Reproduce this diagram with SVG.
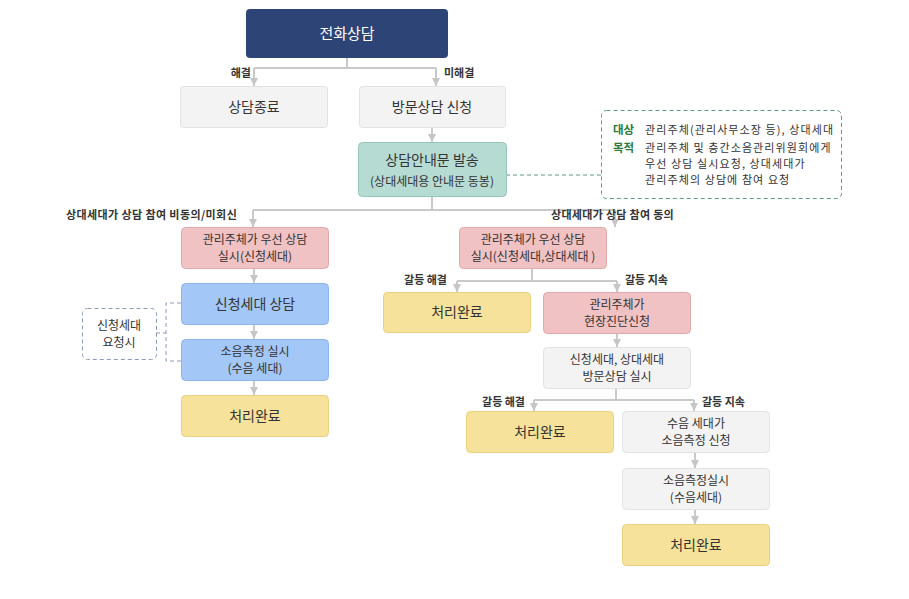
<svg xmlns="http://www.w3.org/2000/svg" width="909" height="599" viewBox="0 0 909 599">
<defs>
<marker id="ah" viewBox="0 0 10 10" refX="10" refY="5" markerWidth="8" markerHeight="10" markerUnits="userSpaceOnUse" orient="auto">
<path d="M0,0 L10,5 L0,10 Z" fill="#c6c6c6"/>
</marker>
<style>
text{font-family:"Noto Sans CJK KR","Noto Sans",sans-serif;fill:#333;text-anchor:middle;}
.n{font-size:14px;}
.s{font-size:12px;}
.lb{font-size:11px;font-weight:bold;}
.g{fill:#f3f3f3;stroke:#e2e2e2;}
.p{fill:#f0c2c3;stroke:#e2a9aa;}
.b{fill:#a3c7f6;stroke:#8db6ea;}
.y{fill:#f6e29a;stroke:#e8d07c;}
.t{fill:#b6dbd3;stroke:#94c6bb;}
.c{fill:none;stroke:#c9c9c9;stroke-width:2;}
.ca{fill:none;stroke:#c9c9c9;stroke-width:2;marker-end:url(#ah);}
.dg{fill:none;stroke:#5f9a85;stroke-dasharray:4,3;stroke-width:1;}
.db{fill:none;stroke:#8d9ab8;stroke-dasharray:4,3;stroke-width:1;}
.nt{font-size:11px;letter-spacing:1.1px;text-anchor:start;}
.ntb{font-size:11.5px;font-weight:bold;fill:#2c7a3a;text-anchor:start;}
</style>
</defs>
<rect width="909" height="599" fill="#fff"/>

<g id="connectors">
<path class="c" d="M347,58 V68 M254,68 H436"/>
<path class="ca" d="M254,68 V86"/>
<path class="ca" d="M436,68 V86"/>
<path class="ca" d="M432,127 V142"/>
<path class="dg" d="M506,175 H601"/>
<path class="c" d="M432,196 V210 M253,210 H615"/>
<path class="ca" d="M253,210 V227"/>
<path class="ca" d="M615,210 V227"/>
<path class="ca" d="M254,268 V283"/>
<path class="ca" d="M254,324 V339"/>
<path class="ca" d="M254,380 V395"/>
<path class="db" d="M156,333 H166 M181,303 H166 V361 H181"/>
<path class="c" d="M532,268 V281 M457,281 H617"/>
<path class="ca" d="M457,281 V292"/>
<path class="ca" d="M617,281 V292"/>
<path class="ca" d="M617,333 V347"/>
<path class="c" d="M616,388 V400 M534,400 H694"/>
<path class="ca" d="M534,400 V411"/>
<path class="ca" d="M694,400 V411"/>
<path class="ca" d="M695,452 V468"/>
<path class="ca" d="M695,509 V524"/>
</g>

<g id="labels">
<text class="lb" x="251" y="77" style="text-anchor:end">해결</text>
<text class="lb" x="444" y="77" style="text-anchor:start">미해결</text>
<text class="lb" x="66" y="219" style="text-anchor:start;letter-spacing:0.4px">상대세대가 상담 참여 비동의/미회신</text>
<text class="lb" x="551" y="219" style="text-anchor:start;letter-spacing:0.3px">상대세대가 상담 참여 동의</text>
<text class="lb" x="447" y="284" style="text-anchor:end">갈등 해결</text>
<text class="lb" x="625" y="284" style="text-anchor:start">갈등 지속</text>
<text class="lb" x="525" y="406" style="text-anchor:end">갈등 해결</text>
<text class="lb" x="702" y="406" style="text-anchor:start">갈등 지속</text>
</g>

<g id="n-phone">
<rect x="246" y="9" width="202" height="49" rx="4" fill="#2c4476"/>
<text x="347" y="39" style="fill:#fff;font-size:15px">전화상담</text>
</g>
<g id="n-end">
<rect class="g" x="180.5" y="86.5" width="147" height="41" rx="3"/>
<text class="n" x="254" y="112">상담종료</text>
</g>
<g id="n-visit">
<rect class="g" x="359.5" y="86.5" width="146" height="41" rx="3"/>
<text class="n" x="432" y="112">방문상담 신청</text>
</g>
<g id="n-notice">
<rect class="t" x="358.5" y="142.5" width="148" height="54" rx="4"/>
<text class="n" x="432" y="165">상담안내문 발송</text>
<text class="s" x="432" y="186">(상대세대용 안내문 동봉)</text>
</g>
<g id="n-note">
<rect class="dg" x="601.5" y="110.5" width="240" height="88" rx="5"/>
<text class="ntb" x="613" y="134">대상</text>
<text class="nt" x="645" y="134">관리주체(관리사무소장 등), 상대세대</text>
<text class="ntb" x="613" y="152">목적</text>
<text class="nt" x="645" y="152">관리주체 및 층간소음관리위원회에게</text>
<text class="nt" x="645" y="168">우선 상담 실시요청, 상대세대가</text>
<text class="nt" x="645" y="184">관리주체의 상담에 참여 요청</text>
</g>

<g id="n-l1">
<rect class="p" x="181.5" y="227.5" width="147" height="41" rx="4"/>
<text class="s" x="255" y="244">관리주체가 우선 상담</text>
<text class="s" x="255" y="261">실시(신청세대)</text>
</g>
<g id="n-l2">
<rect class="b" x="181.5" y="283.5" width="147" height="41" rx="4"/>
<text class="n" x="255" y="309">신청세대 상담</text>
</g>
<g id="n-l3">
<rect class="b" x="181.5" y="339.5" width="147" height="41" rx="4"/>
<text class="s" x="255" y="356">소음측정 실시</text>
<text class="s" x="255" y="373">(수음 세대)</text>
</g>
<g id="n-l4">
<rect class="y" x="181.5" y="395.5" width="147" height="41" rx="4"/>
<text class="n" x="255" y="421">처리완료</text>
</g>
<g id="n-req">
<rect class="db" x="82.5" y="308.5" width="74" height="51" rx="5"/>
<text class="s" x="119" y="330">신청세대</text>
<text class="s" x="119" y="347">요청시</text>
</g>

<g id="n-r1">
<rect class="p" x="459.5" y="227.5" width="147" height="41" rx="4"/>
<text class="s" x="533" y="244">관리주체가 우선 상담</text>
<text class="s" x="533" y="261">실시(신청세대,상대세대 )</text>
</g>
<g id="n-r2">
<rect class="y" x="383.5" y="292.5" width="147" height="40" rx="4"/>
<text class="n" x="457" y="317">처리완료</text>
</g>
<g id="n-r3">
<rect class="p" x="543.5" y="292.5" width="147" height="41" rx="4"/>
<text class="s" x="617" y="309">관리주체가</text>
<text class="s" x="617" y="326">현장진단신청</text>
</g>
<g id="n-r4">
<rect class="g" x="543.5" y="347.5" width="147" height="41" rx="4"/>
<text class="s" x="617" y="364">신청세대, 상대세대</text>
<text class="s" x="617" y="381">방문상담 실시</text>
</g>
<g id="n-r5">
<rect class="y" x="466.5" y="411.5" width="147" height="41" rx="4"/>
<text class="n" x="540" y="437">처리완료</text>
</g>
<g id="n-r6">
<rect class="g" x="622.5" y="411.5" width="147" height="41" rx="4"/>
<text class="s" x="696" y="428">수음 세대가</text>
<text class="s" x="696" y="445">소음측정 신청</text>
</g>
<g id="n-r7">
<rect class="g" x="622.5" y="468.5" width="147" height="41" rx="4"/>
<text class="s" x="696" y="485">소음측정실시</text>
<text class="s" x="696" y="502">(수음세대)</text>
</g>
<g id="n-r8">
<rect class="y" x="622.5" y="524.5" width="147" height="41" rx="4"/>
<text class="n" x="696" y="550">처리완료</text>
</g>
</svg>
